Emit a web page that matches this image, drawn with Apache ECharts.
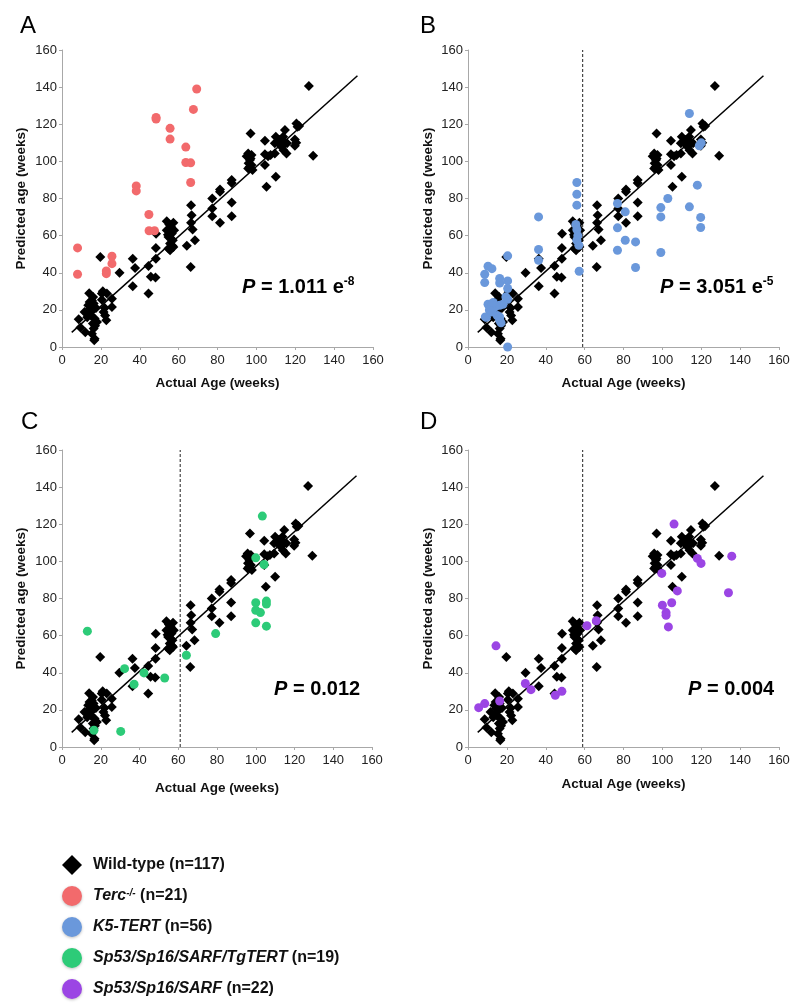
<!DOCTYPE html>
<html><head><meta charset="utf-8">
<script src="https://cdn.jsdelivr.net/npm/echarts@6/dist/echarts.min.js"></script>
<style>html,body{margin:0;padding:0;background:#fff}#c{width:800px;height:1007px}</style>
</head><body><div id="c"></div>
<script>
// ---------- DATA ----------
const panelLetters = ['A', 'B', 'C', 'D'];
const axisMin = 0, axisMax = 160, axisStep = 20;

const wildType = [
  [8.6,14.9],[12,8],[11.6,18.9],[14,29],[14.2,24.3],[14.5,20.7],[14.9,17],[15.4,25],[16.3,23.4],[16.8,15.3],
  [15.9,12.6],[16.3,9.9],[15.4,7.2],[16.8,4.5],[16.6,3.6],[18,13.5],[19.7,48.5],[20.5,28.8],[20.5,25.5],[21.4,18.9],
  [22.2,17],[22.8,14.4],[23.1,28.8],[25.7,26],[25.7,21.6],[29.6,40],[36.4,47.6],[36.4,32.7],[37.6,42.6],[44.5,43.7],
  [44.5,28.8],[45.7,37.8],[48.4,61],[48.3,53.4],[48.3,47.6],[48.1,37.4],[53.9,67.8],[53.9,62.9],[54.8,59.3],[55.6,55.7],
  [54.8,53],[55.6,52.1],[56.1,64.7],[56.5,61.1],[57,57.5],[57.3,66.9],[57.3,53.9],[57.7,62.9],[64.2,54.5],[66.4,76.4],
  [66.4,66.9],[66.7,71],[67.2,63.3],[66.2,43.1],[68.4,57.5],[77.3,80],[77.3,74.6],[77.3,70.5],[81.3,84.9],[81.3,83.6],
  [81.3,66.9],[87.3,89.9],[87.3,88.4],[87.3,77.8],[87.3,70.5],[95,102.8],[95.8,104.3],[95.8,96.2],[96.7,100.7],[97,115],
  [97.5,103.4],[97.5,98],[98,95.3],[104.4,111.1],[104.4,103.9],[104.4,98],[105.2,86.3],[107.3,103.4],[109.5,104.3],[109.5,109.7],
  [110,113.3],[110,91.7],[112,111.5],[112.9,107.9],[113.8,113.3],[114.7,116.9],[114.7,109.7],[115.5,104.3],[115.8,109.7],[119.8,111.8],
  [119.8,108.4],[120.6,120.4],[121.2,118.7],[122,119],[127,140.6],[129.2,103],[9.5,10.5],[13.5,22.5],[15,19],[17.5,21],
  [17,11.5],[21,30],[22,21],[13,16],[55,63.5],[56,58.5],[55.2,66],[56.8,54.5],[54.5,60.5],[96,99],
  [97,101.5],[96.5,97],[106,102.8],[111,110.5],[114,106],[120.5,110],[16,27]
];
const terc = [
  [8,53.4],[8,39.2],[22.8,41],[22.8,39.5],[25.7,48.9],[25.7,44.9],[38.2,86.8],[38.2,84.1],[44.7,71.4],[44.8,62.6],
  [47.6,62.6],[48.4,123.7],[48.4,122.8],[55.6,117.8],[55.6,112],[63.7,107.7],[63.7,99.4],[66.2,99.2],[66.2,88.6],[67.6,128],
  [69.3,139]
];
const k5tert = [
  [8.6,39.2],[8.6,34.7],[8.9,16.2],[10.3,43.5],[10.3,23],[12.3,42.2],[12.3,22.5],[12.3,18.9],[14,21.6],[16.3,36.9],
  [16.3,34.5],[16.3,22.5],[16.3,16.2],[16.3,14.4],[20.4,49.1],[20.4,35.6],[20.4,31.5],[20.4,25.7],[20.4,0],[36.3,70.1],
  [36.3,52.5],[36.3,46.7],[56,88.6],[56,82.3],[56,76.4],[56,63.3],[56,57.5],[57.2,40.8],[57,54.8],[76.9,77.3],
  [76.9,64.2],[76.9,52.1],[80.9,72.8],[80.9,57.5],[86.2,56.6],[86.2,42.8],[99.2,75.1],[99.2,70.1],[99.2,50.9],[102.8,80],
  [113.9,125.8],[113.9,75.5],[118,87.2],[119,108.4],[119.7,69.8],[119.7,64.4],[9.5,16],[11,20],[13,24],[15,17],
  [17,13],[18,23],[19.5,27],[56.5,60],[55.5,66],[120,110]
];
const sp53tert = [
  [13.1,62.4],[16.5,9],[30.3,8.4],[32.3,42.2],[37.2,33.8],[42.3,39.9],[53,37.2],[64.2,49.4],[79.3,61.1],[100,101.9],
  [100,77.7],[100,73.7],[100,66.9],[102.4,72.4],[103.4,124.4],[104.3,98.3],[105.5,78.6],[105.5,77],[105.5,65.1]
];
const sp53 = [
  [5.5,21.2],[8.6,23.4],[14.4,54.5],[16.3,24.8],[29.5,34.2],[32.4,30.9],[44.9,27.9],[48.3,30],[61.2,65.3],[66,68],
  [99.7,93.5],[100,76.4],[101.9,72.4],[101.9,71],[103.1,64.7],[104.8,77.7],[106,120.1],[107.7,84.1],[118,101.6],[119.9,98.9],
  [134,83.1],[135.7,102.8]
];
const fitLine = [[5, 7.9], [152, 146.1]];
const cutoffX = [null, 59, 61, 59];
const groupNames = ['Terc', 'K5-TERT', 'Sp53/Sp16/SARF/TgTERT', 'Sp53/Sp16/SARF'];
const pMain = ['1.011 e', '3.051 e', '0.012', '0.004'];
const pExp = ['-8', '-5', '', ''];
const axisXName = 'Actual Age (weeks)';
const axisYName = 'Predicted age (weeks)';

// ---------- STYLE ----------
const FONT = '"Liberation Sans", Arial, Helvetica, sans-serif';
const groupColors = ['#F26A6C', '#6A98DB', '#2DCB78', '#9B45E4'];
const groupData = [terc, k5tert, sp53tert, sp53];
const grids = [
  {left: 62, top: 50, width: 311, height: 297},
  {left: 468, top: 50, width: 311, height: 297},
  {left: 62, top: 450, width: 310, height: 297},
  {left: 468, top: 450, width: 311, height: 297}
];
const xNameGap = [29, 29, 34, 30];
const yNameGap = [34, 33, 34, 33];
const titlePos = [[15, 9], [415, 9], [16, 405], [415, 405]];
const pPos = [[242, 276], [660, 276], [274, 679], [688, 679]];

const xAxes = [], yAxes = [], series = [], titles = [], graphics = [];
for (let i = 0; i < 4; i++) {
  const axisCommon = {
    gridIndex: i, type: 'value', min: axisMin, max: axisMax, interval: axisStep,
    splitLine: {show: false},
    axisLine: {show: true, lineStyle: {color: '#a8a8a8', width: 1}},
    axisTick: {show: true, inside: false, length: 3, lineStyle: {color: '#a8a8a8'}},
    axisLabel: {color: '#222', fontSize: 13, fontFamily: FONT},
    nameLocation: 'middle',
    nameTextStyle: {color: '#111', fontSize: 13.5, fontWeight: 'bold', fontFamily: FONT}
  };
  xAxes.push(Object.assign({}, axisCommon, {name: axisXName, nameGap: xNameGap[i],
    axisLabel: Object.assign({}, axisCommon.axisLabel, {margin: 7})}));
  yAxes.push(Object.assign({}, axisCommon, {name: axisYName, nameGap: yNameGap[i],
    axisLabel: Object.assign({}, axisCommon.axisLabel, {margin: 5})}));

  series.push({
    name: 'Wild-type', type: 'scatter', xAxisIndex: i, yAxisIndex: i,
    symbol: 'diamond', symbolSize: 10, data: wildType,
    itemStyle: {color: '#000', opacity: 1}, z: 2
  });
  series.push({
    name: 'fit' + i, type: 'line', xAxisIndex: i, yAxisIndex: i, data: fitLine,
    symbol: 'none', silent: true, lineStyle: {color: '#000', width: 1.5}, z: 3
  });
  if (cutoffX[i] !== null) {
    series.push({
      name: 'cut' + i, type: 'line', xAxisIndex: i, yAxisIndex: i,
      data: [[cutoffX[i], axisMin], [cutoffX[i], axisMax]],
      symbol: 'none', silent: true, lineStyle: {color: '#222', width: 1, type: [3, 2]}, z: 1
    });
  }
  series.push({
    name: groupNames[i], type: 'scatter', xAxisIndex: i, yAxisIndex: i,
    symbol: 'circle', symbolSize: 9, data: groupData[i],
    itemStyle: {color: groupColors[i], opacity: 1}, z: 4
  });

  titles.push({
    text: panelLetters[i], left: titlePos[i][0], top: titlePos[i][1],
    textStyle: {fontSize: 24, fontWeight: 'normal', color: '#000', fontFamily: FONT}
  });

  graphics.push({
    type: 'text', left: pPos[i][0], top: pPos[i][1], z: 10,
    style: {
      text: '{i|P}{b| = ' + pMain[i] + '}' + (pExp[i] ? '{s|' + pExp[i] + '}' : ''),
      rich: {
        i: {fontSize: 20, fontWeight: 'bold', fontStyle: 'italic', fontFamily: FONT, fill: '#000', lineHeight: 22},
        b: {fontSize: 20, fontWeight: 'bold', fontFamily: FONT, fill: '#000', lineHeight: 22},
        s: {fontSize: 12, fontWeight: 'bold', fontFamily: FONT, fill: '#000', lineHeight: 12, verticalAlign: 'top'}
      }
    }
  });
}

const legendLabels = {
  'Wild-type': '{b0|Wild-type (n=117)}',
  'Terc': '{bi0|Terc}{sup|-/-}{b| (n=21)}',
  'K5-TERT': '{bi0|K5-TERT}{b| (n=56)}',
  'Sp53/Sp16/SARF/TgTERT': '{bi0|Sp53/Sp16/SARF/TgTERT}{b| (n=19)}',
  'Sp53/Sp16/SARF': '{bi0|Sp53/Sp16/SARF}{b| (n=22)}'
};
const shadow = {shadowBlur: 3, shadowColor: 'rgba(0,0,0,0.25)', shadowOffsetY: 1};

const option = {
  animation: false,
  backgroundColor: '#fff',
  title: titles,
  grid: grids,
  xAxis: xAxes,
  yAxis: yAxes,
  series: series,
  graphic: graphics,
  legend: {
    orient: 'vertical', left: 62, top: 855, height: 150, padding: 0,
    itemGap: 11, itemWidth: 20, itemHeight: 20,
    selectedMode: false,
    data: [
      {name: 'Wild-type', icon: 'diamond'},
      {name: 'Terc', icon: 'circle', itemStyle: shadow},
      {name: 'K5-TERT', icon: 'circle', itemStyle: shadow},
      {name: 'Sp53/Sp16/SARF/TgTERT', icon: 'circle', itemStyle: shadow},
      {name: 'Sp53/Sp16/SARF', icon: 'circle', itemStyle: shadow}
    ],
    formatter: function (name) { return legendLabels[name]; },
    textStyle: {
      fontFamily: FONT, color: '#111',
      rich: {
        b0: {fontSize: 16, fontWeight: 'bold', fontFamily: FONT, color: '#111', padding: [0, 0, 0, 6]},
        bi0: {fontSize: 16, fontWeight: 'bold', fontStyle: 'italic', fontFamily: FONT, color: '#111', padding: [0, 0, 0, 6]},
        b: {fontSize: 16, fontWeight: 'bold', fontFamily: FONT, color: '#111'},
        sup: {fontSize: 10, fontWeight: 'bold', fontStyle: 'italic', fontFamily: FONT, color: '#111', verticalAlign: 'top', lineHeight: 10}
      }
    }
  }
};

const chart = echarts.init(document.getElementById('c'), null, {renderer: 'canvas'});
chart.setOption(option);
</script>
</body></html>
